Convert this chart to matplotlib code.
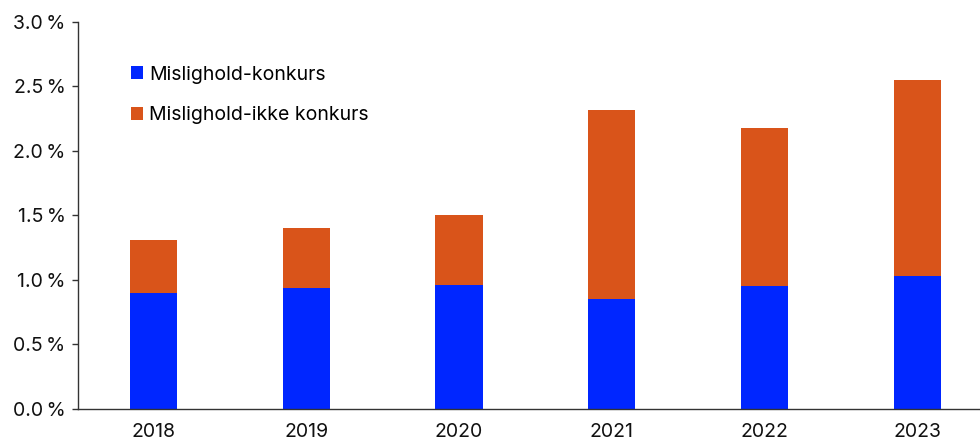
import matplotlib.pyplot as plt
import numpy as np
from matplotlib.ticker import FuncFormatter

YEARS = ["2018", "2019", "2020", "2021", "2022", "2023"]
KONKURS = [0.90, 0.94, 0.96, 0.85, 0.95, 1.03]
IKKE_KONKURS = [0.41, 0.46, 0.54, 1.47, 1.23, 1.52]

BLUE = "#0026FF"
ORANGE = "#D9541A"

plt.rcParams["font.family"] = ["Inter", "DejaVu Sans"]

fig = plt.figure(figsize=(9.8, 4.42), dpi=100)
ax = fig.add_axes([0.0796, 0.0747, 0.9204, 0.8756])

x = np.arange(len(YEARS))
width = 0.31
ax.bar(x, KONKURS, width, color=BLUE, label="Mislighold-konkurs")
ax.bar(x, IKKE_KONKURS, width, bottom=KONKURS, color=ORANGE,
       label="Mislighold-ikke konkurs")

ax.set_xlim(-0.494, 5.41)
ax.set_ylim(0, 3.0)
ax.set_yticks(np.arange(0, 3.01, 0.5))
ax.yaxis.set_major_formatter(FuncFormatter(lambda v, _: f"{v:.1f}\u2009%"))
ax.set_xticks(x)
ax.set_xticklabels(YEARS)

for side in ("top", "right"):
    ax.spines[side].set_visible(False)
for side in ("left", "bottom"):
    ax.spines[side].set_color("#333333")
    ax.spines[side].set_linewidth(1.0)

ax.tick_params(axis="y", length=4, width=1, color="#333333", labelsize=14,
               pad=5, labelcolor="#111111")
ax.tick_params(axis="x", length=0, labelsize=14, pad=10, labelcolor="#111111")

ax.legend(loc="upper left", bbox_to_anchor=(0.0498, 0.907), frameon=False,
          fontsize=14, handlelength=0.65, handleheight=0.65,
          handletextpad=0.3, labelspacing=1.15, borderaxespad=0)

fig.savefig("out.png", dpi=100)
plt.close(fig)
